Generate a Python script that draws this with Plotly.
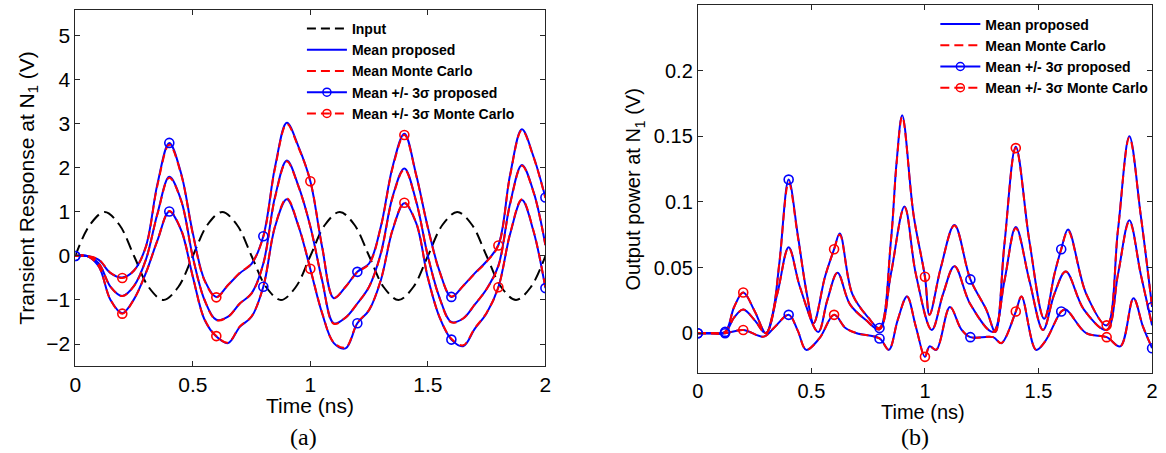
import numpy as np
import plotly.graph_objects as go

# ---------------- panel (a): transient response at N1 ----------------
t_a = [0.00, 0.05, 0.10, 0.15, 0.20, 0.25, 0.30, 0.35, 0.40, 0.45,
       0.50, 0.55, 0.60, 0.65, 0.70, 0.75, 0.80, 0.85, 0.90, 0.95,
       1.00, 1.05, 1.10, 1.15, 1.20, 1.25, 1.30, 1.35, 1.40, 1.45,
       1.50, 1.55, 1.60, 1.65, 1.70, 1.75, 1.80, 1.85, 1.90, 1.95, 2.00]

a_upper_prop = [0, 0, -0.09, -0.39, -0.49, -0.33, 0.21, 1.65, 2.57, 1.88,
                0.52, -0.55, -0.93, -0.66, -0.39, -0.18, 0.45, 2.03, 3.03, 2.48,
                1.70, 0.21, -0.96, -0.70, -0.36, -0.17, 0.67, 2.03, 2.78, 1.85,
                0.65, -0.35, -0.93, -0.68, -0.39, -0.12, 0.25, 1.85, 2.88, 2.25, 1.33]
a_mean_prop = [0, 0, -0.17, -0.70, -0.91, -0.68, -0.09, 0.97, 1.80, 1.27,
               -0.02, -1.00, -1.45, -1.38, -1.08, -0.85, -0.17, 1.35, 2.17, 1.58,
               0.67, -0.55, -1.53, -1.40, -1.08, -0.70, 0.06, 1.35, 1.99, 1.25,
               0.00, -0.95, -1.50, -1.42, -1.10, -0.75, -0.22, 1.20, 2.07, 1.45, 0.25]
a_lower_prop = [0, 0, -0.24, -1.00, -1.30, -0.98, -0.39, 0.36, 1.01, 0.59,
                -0.47, -1.45, -1.83, -1.98, -1.61, -1.38, -0.70, 0.67, 1.29, 0.67,
                -0.30, -1.30, -1.98, -2.10, -1.53, -1.23, -0.55, 0.59, 1.20, 0.75,
                -0.50, -1.40, -1.90, -2.05, -1.65, -1.30, -0.71, 0.50, 1.27, 0.55, -0.73]

a_upper_mc = [0, 0, -0.08, -0.38, -0.50, -0.33, 0.20, 1.62, 2.53, 1.86,
              0.50, -0.56, -0.94, -0.66, -0.38, -0.17, 0.44, 2.00, 3.00, 2.46,
              1.70, 0.22, -0.95, -0.70, -0.37, -0.18, 0.66, 2.00, 2.75, 1.84,
              0.64, -0.36, -0.92, -0.68, -0.40, -0.13, 0.24, 1.83, 2.86, 2.24, 1.32]
a_mean_mc = [0, 0, -0.17, -0.70, -0.91, -0.68, -0.09, 0.96, 1.78, 1.26,
             -0.03, -1.00, -1.46, -1.38, -1.08, -0.85, -0.18, 1.33, 2.15, 1.57,
             0.67, -0.55, -1.54, -1.40, -1.08, -0.70, 0.05, 1.33, 1.97, 1.24,
             0.00, -0.96, -1.51, -1.42, -1.10, -0.75, -0.23, 1.18, 2.05, 1.44, 0.25]
a_lower_mc = [0, 0, -0.24, -1.00, -1.31, -0.98, -0.39, 0.36, 1.02, 0.60,
              -0.47, -1.44, -1.82, -1.97, -1.60, -1.37, -0.69, 0.68, 1.31, 0.68,
              -0.29, -1.29, -1.97, -2.08, -1.52, -1.22, -0.54, 0.60, 1.21, 0.76,
              -0.49, -1.39, -1.88, -2.03, -1.64, -1.29, -0.71, 0.51, 1.29, 0.56, -0.72]

# sinusoidal input excitation, sampled every 0.0625 ns
t_in = [0.0625 * k for k in range(33)]
v_in = [0, 0.71, 1, 0.71, 0, -0.71, -1, -0.71] * 4 + [0]

# ---------------- panel (b): output power at N1 ----------------
tb_upper = [0, 0.06, 0.12, 0.16, 0.20, 0.25, 0.30, 0.33, 0.36, 0.40, 0.44, 0.48, 0.51,
            0.56, 0.60, 0.625, 0.68, 0.75, 0.80, 0.85, 0.875, 0.90, 0.95, 1.00, 1.02,
            1.07, 1.13, 1.20, 1.27, 1.31, 1.35, 1.40, 1.46, 1.525, 1.57, 1.60, 1.63,
            1.71, 1.80, 1.85, 1.90, 1.95, 2.00]
b_upper_prop = [0, 0, 0.001, 0.020, 0.031, 0.017, 0.0, 0.015, 0.055, 0.117, 0.075, 0.030, 0.0076,
                0.043, 0.064, 0.076, 0.030, 0.012, 0.004, 0.070, 0.130, 0.166, 0.090, 0.043, 0.014,
                0.050, 0.0825, 0.041, 0.018, 0.001, 0.068, 0.142, 0.070, 0.011, 0.045, 0.064, 0.079,
                0.030, 0.006, 0.079, 0.150, 0.090, 0.020]
b_upper_mc = [0, 0, 0.001, 0.020, 0.031, 0.017, 0.0, 0.015, 0.055, 0.115, 0.074, 0.030, 0.0078,
              0.043, 0.064, 0.075, 0.030, 0.012, 0.004, 0.070, 0.129, 0.165, 0.090, 0.043, 0.014,
              0.050, 0.082, 0.041, 0.018, 0.001, 0.068, 0.141, 0.070, 0.011, 0.045, 0.064, 0.078,
              0.030, 0.006, 0.079, 0.149, 0.090, 0.020]

tb_mean = [0, 0.06, 0.12, 0.16, 0.20, 0.25, 0.30, 0.35, 0.40, 0.45, 0.53, 0.57, 0.615,
           0.67, 0.74, 0.80, 0.85, 0.91, 0.96, 1.03, 1.08, 1.13, 1.20, 1.30, 1.35, 1.40,
           1.46, 1.52, 1.57, 1.62, 1.70, 1.80, 1.85, 1.90, 1.95, 2.00]
b_mean_prop = [0, 0, 0.0005, 0.012, 0.018, 0.010, 0.0, 0.030, 0.0655, 0.035, 0.001, 0.025, 0.046,
               0.022, 0.010, 0.003, 0.045, 0.0965, 0.045, 0.0025, 0.030, 0.051, 0.022, 0.001, 0.040, 0.081,
               0.040, 0.0025, 0.030, 0.047, 0.018, 0.0025, 0.045, 0.086, 0.045, 0.006]
b_mean_mc = [0, 0, 0.0005, 0.012, 0.018, 0.010, 0.0, 0.030, 0.065, 0.035, 0.001, 0.025, 0.046,
             0.022, 0.010, 0.003, 0.045, 0.096, 0.045, 0.0025, 0.030, 0.051, 0.022, 0.001, 0.040, 0.080,
             0.040, 0.0025, 0.030, 0.047, 0.018, 0.0025, 0.045, 0.085, 0.045, 0.006]

tb_lower = [0, 0.06, 0.12, 0.20, 0.29, 0.34, 0.40, 0.44, 0.477, 0.535, 0.60, 0.65, 0.70,
            0.80, 0.841, 0.88, 0.921, 0.96, 1.00, 1.02, 1.05, 1.11, 1.16, 1.20, 1.30, 1.336,
            1.40, 1.425, 1.489, 1.53, 1.60, 1.62, 1.71, 1.80, 1.86, 1.918, 1.96, 2.00]
b_lower_prop = [0, 0, 0, 0.0025, -0.0026, 0.005, 0.014, 0.002, -0.0127, -0.004, 0.014, 0.004, 0.0,
                -0.004, -0.0127, 0.010, 0.028, 0.005, -0.018, -0.010, -0.0127, 0.020, 0.003, -0.003, -0.003, -0.0076,
                0.0165, 0.028, -0.0127, -0.006, 0.0165, 0.018, 0.0, -0.003, -0.010, 0.0267, 0.005, -0.0114]
b_lower_mc = [0, 0, 0, 0.0025, -0.0026, 0.005, 0.014, 0.002, -0.0125, -0.004, 0.014, 0.004, 0.0,
              -0.004, -0.0125, 0.010, 0.028, 0.005, -0.018, -0.010, -0.0125, 0.020, 0.003, -0.003, -0.003, -0.0075,
              0.0165, 0.028, -0.0125, -0.006, 0.0165, 0.018, 0.0, -0.003, -0.010, 0.0265, 0.005, -0.0112]

# marker instants on the +/-3 sigma envelopes
a_marks_prop = [0.0, 0.4, 0.8, 1.2, 1.6, 2.0]
a_marks_mc = [0.2, 0.6, 1.0, 1.4, 1.8]
b_marks_prop = [0.0, 0.12, 0.4, 0.8, 1.2, 1.6, 2.0]
b_marks_mc = [0.2, 0.6, 1.0, 1.4, 1.8]

BLUE = "#0000ff"
RED = "#ff0000"
DASH = "8px,5px"
LW = 2

fig = go.Figure()


def pick(t, v, marks):
    t = np.asarray(t, dtype=float)
    v = np.asarray(v, dtype=float)
    sel = np.zeros(len(t), dtype=bool)
    for m in marks:
        sel |= np.isclose(t, m)
    return t[sel], v[sel]


def add_line(t, v, color, dash, xa, ya):
    fig.add_trace(go.Scatter(x=t, y=v, mode="lines", showlegend=False, hoverinfo="skip",
                             line=dict(color=color, width=LW, dash=dash, shape="spline", smoothing=1.0),
                             xaxis=xa, yaxis=ya))


def add_marks(t, v, marks, color, xa, ya):
    mt, mv = pick(t, v, marks)
    fig.add_trace(go.Scatter(x=mt, y=mv, mode="markers", showlegend=False, hoverinfo="skip",
                             marker=dict(symbol="circle-open", size=9, color=color, line=dict(width=1.6, color=color)),
                             xaxis=xa, yaxis=ya))


# panel (a) curves
add_line(t_in, v_in, "black", "12px,6px", "x", "y")
for arr in (a_upper_prop, a_mean_prop, a_lower_prop):
    add_line(t_a, arr, BLUE, "solid", "x", "y")
for arr in (a_upper_mc, a_mean_mc, a_lower_mc):
    add_line(t_a, arr, RED, DASH, "x", "y")
for arr in (a_upper_prop, a_lower_prop):
    add_marks(t_a, arr, a_marks_prop, BLUE, "x", "y")
for arr in (a_upper_mc, a_lower_mc):
    add_marks(t_a, arr, a_marks_mc, RED, "x", "y")

# panel (b) curves
for tt, arr in ((tb_upper, b_upper_prop), (tb_mean, b_mean_prop), (tb_lower, b_lower_prop)):
    add_line(tt, arr, BLUE, "solid", "x2", "y2")
for tt, arr in ((tb_upper, b_upper_mc), (tb_mean, b_mean_mc), (tb_lower, b_lower_mc)):
    add_line(tt, arr, RED, DASH, "x2", "y2")
for tt, arr in ((tb_upper, b_upper_prop), (tb_lower, b_lower_prop)):
    add_marks(tt, arr, b_marks_prop, BLUE, "x2", "y2")
for tt, arr in ((tb_upper, b_upper_mc), (tb_lower, b_lower_mc)):
    add_marks(tt, arr, b_marks_mc, RED, "x2", "y2")


# legend entries
def legend_entry(name, color, dash, marker, legend, xa, ya):
    fig.add_trace(go.Scatter(
        x=[None], y=[None], name=name, legend=legend,
        mode="lines+markers" if marker else "lines",
        line=dict(color=color, width=LW, dash=dash),
        marker=dict(symbol="circle-open", size=8, color=color, line=dict(width=1.5, color=color)),
        xaxis=xa, yaxis=ya))


legend_entry("Input", "black", "9px,5px", False, "legend", "x", "y")
legend_entry("Mean proposed", BLUE, "solid", False, "legend", "x", "y")
legend_entry("Mean Monte Carlo", RED, "9px,5px", False, "legend", "x", "y")
legend_entry("Mean +/- 3σ proposed", BLUE, "solid", True, "legend", "x", "y")
legend_entry("Mean +/- 3σ Monte Carlo", RED, "9px,5px", True, "legend", "x", "y")

legend_entry("Mean proposed", BLUE, "solid", False, "legend2", "x2", "y2")
legend_entry("Mean Monte Carlo", RED, "9px,5px", False, "legend2", "x2", "y2")
legend_entry("Mean +/- 3σ proposed", BLUE, "solid", True, "legend2", "x2", "y2")
legend_entry("Mean +/- 3σ Monte Carlo", RED, "9px,5px", True, "legend2", "x2", "y2")

W, H = 1166, 453
AX = "#262626"
FONT = "Liberation Sans, Arial, sans-serif"
SERIF = "Liberation Serif, Times New Roman, serif"


def axis_style(size, **kw):
    d = dict(showline=True, linecolor=AX, linewidth=1, mirror="ticks", ticks="inside",
             ticklen=5, tickcolor=AX, tickwidth=1, showgrid=False, zeroline=False,
             tickfont=dict(family=FONT, size=size, color="black"))
    d.update(kw)
    return d


fig.update_layout(
    width=W, height=H, margin=dict(l=0, r=0, t=0, b=0),
    paper_bgcolor="white", plot_bgcolor="white",
    xaxis=axis_style(21, domain=[70 / W, 545 / W], range=[0, 2], tickvals=[0, 0.5, 1, 1.5, 2],
                     ticktext=["0", "0.5", "1", "1.5", "2"], anchor="y"),
    yaxis=axis_style(21, domain=[1 - 366 / H, 1 - 10 / H], range=[-2.5, 5.59],
                     tickvals=[-2, -1, 0, 1, 2, 3, 4, 5], anchor="x"),
    xaxis2=axis_style(20, domain=[699 / W, 1158 / W], range=[0, 2], tickvals=[0, 0.5, 1, 1.5, 2],
                      ticktext=["0", "0.5", "1", "1.5", "2"], anchor="y2"),
    yaxis2=axis_style(20, domain=[1 - 373 / H, 1 - 5 / H], range=[-0.0303, 0.25],
                      tickvals=[0, 0.05, 0.1, 0.15, 0.2, 0.25],
                      ticktext=["0", "0.05", "0.1", "0.15", "0.2", "0.25"], anchor="x2"),
    legend=dict(x=299 / W, y=1 - 13 / H, xanchor="left", yanchor="top", bgcolor="rgba(255,255,255,0)",
                borderwidth=0, font=dict(family=FONT, size=14, color="black", weight="bold"),
                tracegroupgap=0, itemwidth=40),
    legend2=dict(x=939 / W, y=1 - 8.5 / H, xanchor="left", yanchor="top", bgcolor="rgba(255,255,255,0)",
                 borderwidth=0, font=dict(family=FONT, size=14, color="black", weight="bold"),
                 tracegroupgap=0, itemwidth=40),
    showlegend=True,
)

annotations = [
    dict(text="Time (ns)", x=307 / W, y=1 - 405 / H, font=dict(size=21)),
    dict(text="Time (ns)", x=927 / W, y=1 - 412 / H, font=dict(size=20)),
    dict(text="Transient Response at N<sub>1</sub> (V)", x=22 / W, y=1 - 188 / H, textangle=-90,
         font=dict(size=21)),
    dict(text="Output power at N<sub>1</sub> (V)", x=635 / W, y=1 - 189 / H, textangle=-90,
         font=dict(size=20)),
    dict(text="(a)", x=301 / W, y=1 - 437 / H, font=dict(size=24, family=SERIF)),
    dict(text="(b)", x=918 / W, y=1 - 437 / H, font=dict(size=24, family=SERIF)),
]
for a in annotations:
    f = dict(family=FONT, color="black")
    f.update(a.pop("font"))
    fig.add_annotation(xref="paper", yref="paper", xanchor="center", yanchor="middle",
                       showarrow=False, font=f, **a)

fig.write_html("out.html")
